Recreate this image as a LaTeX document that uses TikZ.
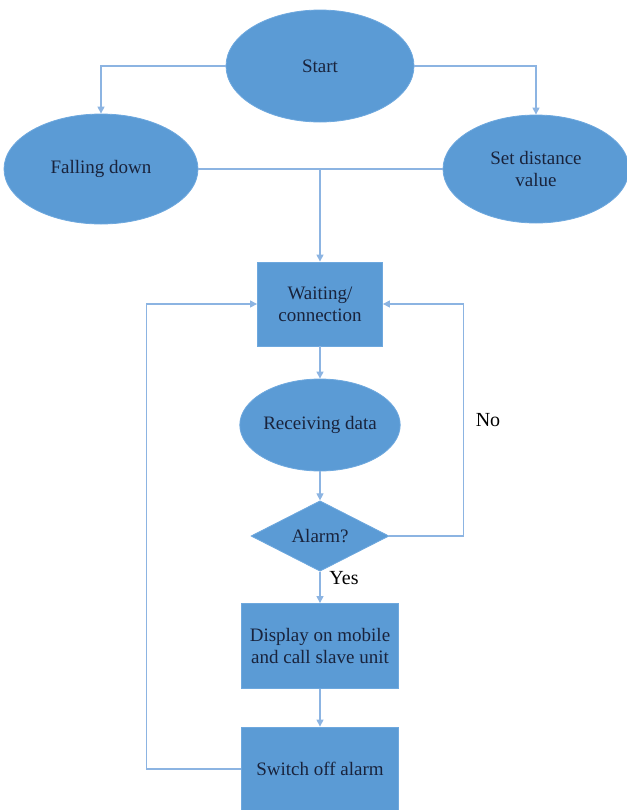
\documentclass[tikz,border=0pt]{standalone}
\usepackage{fontspec}
\setmainfont{Liberation Serif}
\usetikzlibrary{shapes.geometric,arrows.meta}
\definecolor{azul}{RGB}{91,155,213}
\definecolor{borde}{RGB}{110,168,222}
\definecolor{linea}{RGB}{140,180,226}
\definecolor{texto}{RGB}{25,35,60}
\begin{document}
\begin{tikzpicture}[x=0.5pt,y=-0.5pt,
    elipse/.style={ellipse, fill=azul, draw=borde, inner sep=0pt, align=center,
        font=\fontsize{9.5}{11}\selectfont, text=texto},
    caja/.style={rectangle, fill=azul, draw=borde, inner sep=0pt, align=center,
        font=\fontsize{9.5}{11}\selectfont, text=texto},
    rombo/.style={diamond, fill=azul, draw=borde, inner sep=0pt, align=center,
        font=\fontsize{9.5}{11}\selectfont, text=texto},
    flecha/.style={draw=linea, line width=0.6pt, -{Triangle[length=3.5pt,width=3.5pt]}},
    linea/.style={draw=linea, line width=0.6pt},
    etiqueta/.style={font=\fontsize{10}{12}\selectfont, text=black}]

    \useasboundingbox (0,0) rectangle (627,810);

    % elipses de arriba
    \node[elipse, minimum width=94pt, minimum height=56pt] (start) at (320,66) {Start};
    \node[elipse, minimum width=97pt, minimum height=55pt] (fall) at (101,169) {Falling down};
    \node[elipse, minimum width=93pt, minimum height=54pt] (setd) at (536,169) {Set distance\\value};

    % bloques del centro
    \node[caja, minimum width=62.5pt, minimum height=42pt] (wait) at (320,304) {Waiting/\\connection};
    \node[elipse, minimum width=79pt, minimum height=46pt] (recv) at (320,425) {Receiving data};
    \node[rombo, minimum width=69pt, minimum height=31pt] (alarm) at (320,536) {Alarm?};
    \node[caja, minimum width=78.5pt, minimum height=42.5pt] (disp) at (320,646) {Display on mobile\\and call slave unit};
    \node[caja, minimum width=78.5pt, minimum height=42pt] (off) at (320,769) {Switch off alarm};

    % etiquetas
    \node[etiqueta] (no) at (488,420) {No};
    \node[etiqueta] (yes) at (344,578) {Yes};

    % conexiones
    \draw[flecha] (start.west) -| (fall.north);
    \draw[flecha] (start.east) -| (setd.north);
    \draw[linea] (fall.east) -- (setd.west);
    \coordinate (junta) at (wait.north |- fall.east);
    \draw[flecha] (junta) -- (wait.north);
    \draw[flecha] (wait.south) -- (recv.north);
    \draw[flecha] (recv.south) -- (alarm.north);
    \draw[flecha] (alarm.south) -- (disp.north);
    \draw[flecha] (disp.south) -- (off.north);
    \draw[flecha] (alarm.east) -- ++(74,0) |- (wait.east);
    \draw[flecha] (off.west) -- ++(-95,0) |- (wait.west);

\end{tikzpicture}
\end{document}
